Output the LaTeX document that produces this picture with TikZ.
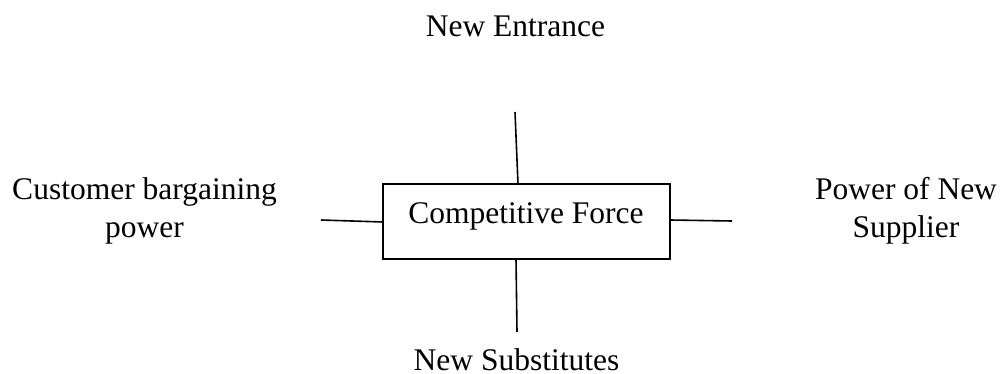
\documentclass[tikz,border=0pt]{standalone}
\usepackage{fontspec}
\setmainfont{Liberation Serif}
\begin{document}
\begin{tikzpicture}[x=1pt,y=-1pt,
  lbl/.style={inner sep=0pt, align=center, anchor=base, font=\fontsize{31.5}{37.5}\selectfont},
  forcebox/.style={draw, line width=1.6pt, minimum width=287pt, minimum height=75pt, inner sep=0pt, font=\fontsize{31.5}{37.5}\selectfont},
  conn/.style={line width=1.6pt}]
\useasboundingbox (0,0) rectangle (1003,374);
\node[forcebox] (box) at (526.5,221.5) {};
\node[lbl] (ctext) at (526,223) {Competitive Force};
\node[lbl] (top) at (515.5,37) {New Entrance};
\node[lbl] (bottom) at (516.5,370) {New Substitutes};
\node[lbl] (left) at (144.5,237) {Customer bargaining\\power};
\node[lbl] (right) at (906,237) {Power of New\\Supplier};
\coordinate (t1) at (515,112);
\coordinate (t2) at (518,184);
\coordinate (b1) at (516,259);
\coordinate (b2) at (517,332);
\coordinate (l1) at (321,220);
\coordinate (l2) at (383,222);
\coordinate (r1) at (670,220);
\coordinate (r2) at (732,221);
\draw[conn] (t1) -- (t2);
\draw[conn] (b1) -- (b2);
\draw[conn] (l1) -- (l2);
\draw[conn] (r1) -- (r2);
\end{tikzpicture}
\end{document}
